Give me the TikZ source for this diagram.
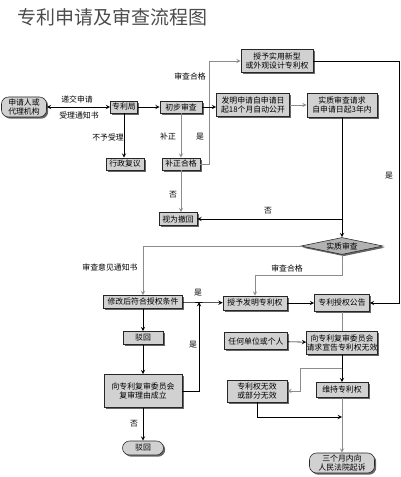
\documentclass[tikz,border=0pt]{standalone}
\usepackage{fontspec}
\newfontfamily\cjk{Noto Sans CJK SC}
\usepackage{tikz}
\usetikzlibrary{shapes.geometric,shadows}

\begin{document}
\begin{tikzpicture}[x=0.025cm, y=-0.025cm,
    box/.style={draw=black!85, fill=black!18, inner sep=0pt, align=center,
      font=\cjk\fontsize{5.6}{6.4}\selectfont,
      drop shadow={shadow xshift=1.2pt, shadow yshift=-1.2pt, opacity=1, fill=black!60}},
    term/.style={box, rounded corners=5pt},
    decide/.style={box, diamond, aspect=4.8, fill=black!30},
    lbl/.style={font=\cjk\fontsize{5.6}{6.4}\selectfont, inner sep=1pt},
    line/.style={draw=black, -stealth},
    gline/.style={draw=black!45, -stealth}]
  % 1 unidad = 1 px de la imagen
  \useasboundingbox (0,0) rectangle (400,477);
  \node[font=\cjk\fontsize{13.5}{15}\selectfont, text=black!70, anchor=west] (title) at (13,17) {专利申请及审查流程图};
  % primera fila
  \node[term, minimum width=1.125cm, minimum height=0.5cm] (app) at (24,107) {申请人或\\代理机构};
  \node[box, minimum width=0.675cm, minimum height=0.3cm] (office) at (124,107) {专利局};
  \node[box, minimum width=1.05cm, minimum height=0.3cm] (prelim) at (181,107) {初步审查};
  \node[box, minimum width=0.95cm, minimum height=0.3cm] (review) at (125,164) {行政复议};
  \node[box, minimum width=0.95cm, minimum height=0.3cm] (amend) at (181,164) {补正合格};
  \node[box, minimum width=0.95cm, minimum height=0.325cm] (withdrawn) at (178,219) {视为撤回};
  \node[box, minimum width=1.8cm, minimum height=0.575cm] (utility) at (277,61) {授予实用新型\\或外观设计专利权};
  \node[box, minimum width=1.825cm, minimum height=0.575cm] (publish) at (253,105) {发明申请自申请日\\起18个月自动公开};
  \node[box, minimum width=1.75cm, minimum height=0.6cm] (request) at (342,105) {实质审查请求\\自申请日起3年内};
  \node[decide, minimum width=2.05cm, minimum height=0.425cm] (subst) at (342,246) {实质审查};
  % columna izquierda
  \node[box, minimum width=1.975cm, minimum height=0.325cm] (revised) at (143,302) {修改后符合授权条件};
  \node[box, minimum width=1.0cm, minimum height=0.325cm] (reject) at (143,338) {驳回};
  \node[box, minimum width=1.95cm, minimum height=0.825cm] (board) at (143,391) {向专利复审委员会\\复审理由成立};
  \node[term, minimum width=1.025cm, minimum height=0.35cm] (rejectend) at (143,448) {驳回};
  % columna derecha
  \node[box, minimum width=1.6cm, minimum height=0.35cm] (grant) at (255,303) {授予发明专利权};
  \node[box, minimum width=1.375cm, minimum height=0.425cm] (announce) at (342,303) {专利授权公告};
  \node[box, minimum width=1.575cm, minimum height=0.425cm] (anyone) at (256,341) {任何单位或个人};
  \node[box, minimum width=1.775cm, minimum height=0.575cm] (invalid) at (342,343) {向专利复审委员会\\请求宣告专利权无效};
  \node[box, minimum width=1.5cm, minimum height=0.55cm] (void) at (257,391) {专利权无效\\或部分无效};
  \node[box, minimum width=1.3cm, minimum height=0.375cm] (keep) at (342,390) {维持专利权};
  \node[term, minimum width=1.625cm, minimum height=0.5cm] (court) at (342,463) {三个月内向\\人民法院起诉};
  \coordinate (jB) at (342,219);
  \coordinate (jC) at (199,302);
  \coordinate (jD) at (342,368);
  \coordinate (jE) at (342,417);
  % conectores
  \draw[line, stealth-stealth] (app) -- (office);
  \node[lbl] at (77,99) {递交申请};
  \node[lbl] at (79,115) {受理通知书};
  \draw[line] (office) -- (prelim);
  \draw[line] (office.south) -- (office.south |- review.north);
  \node[lbl] at (108,137) {不予受理};
  \draw[gline] (prelim) -- (amend);
  \node[lbl] at (168,137) {补正};
  \draw[gline] (amend.east) -- ++(9,0) |- (utility.west);
  \node[lbl] at (200,137) {是};
  \node[lbl] at (190,76) {审查合格};
  \draw[line] (prelim.east) -- (prelim.east -| publish.west);
  \draw[gline] (amend.south) -- (amend.south |- withdrawn.north);
  \node[lbl] at (173,195) {否};
  \draw[gline] (publish.east) -- (publish.east -| request.west);
  \draw[line] (request) -- (subst);
  \draw[line] (jB) -- (withdrawn.east);
  \node[lbl] at (268,211) {否};
  \draw[line] (utility.east) -- ++(86,0) |- (announce.east);
  \node[lbl] at (389,176) {是};
  \draw[gline] (subst.west) -| (revised.north);
  \node[lbl] at (110,267) {审查意见通知书};
  \draw[gline] (subst.south) -- ++(0,20) -| (grant.north);
  \node[lbl] at (287,268) {审查合格};
  \draw[line] (revised) -- (grant);
  \node[lbl] at (198,293) {是};
  \draw[line] (revised) -- (reject);
  \draw[line] (reject) -- (board);
  \draw[line] (board.east) -| (jC);
  \node[lbl] at (193,345) {是};
  \draw[line] (board) -- (rejectend);
  \node[lbl] at (134,424) {否};
  \draw[line] (grant) -- (announce);
  \draw[gline, -] (announce) -- (invalid);
  \draw[line] (anyone) -- (invalid);
  \draw[line] (invalid) -- (keep);
  \draw[gline] (jD) -- ++(-42,0) |- (void.east);
  \draw[line] (void.south) |- (jE);
  \draw[gline] (keep) -- (court);
\end{tikzpicture}
\end{document}
